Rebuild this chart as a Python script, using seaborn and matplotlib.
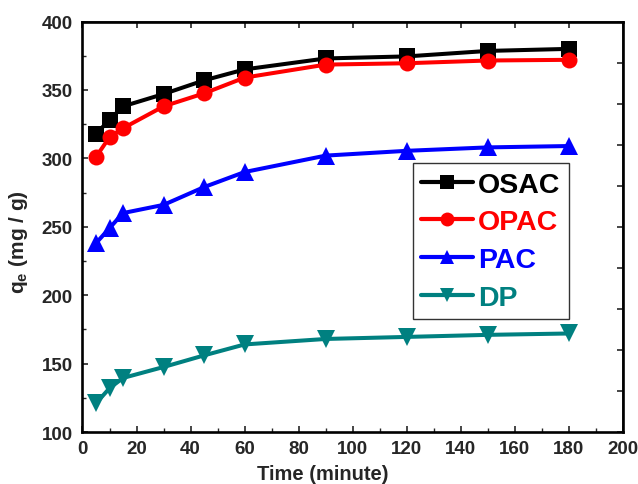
import numpy as np
import pandas as pd
import matplotlib
matplotlib.use("Agg")
import matplotlib.pyplot as plt
import seaborn as sns
from matplotlib.ticker import MultipleLocator

time_min = [5, 10, 15, 30, 45, 60, 90, 120, 150, 180]
osac = [318, 328, 338, 347, 357, 365, 373, 374.5, 378.5, 380]
opac = [301, 315.5, 322, 338, 347.5, 359, 368.5, 369.5, 371.5, 372]
pac = [238, 249, 260, 266, 279, 290, 302, 305.5, 308, 309]
dp = [121, 132, 139.5, 147.5, 156, 164, 168, 169.5, 171, 172]
series_names = ["OSAC", "OPAC", "PAC", "DP"]
colors = ["#000000", "#FF0000", "#0000FF", "#008080"]
markers = ["s", "o", "^", "v"]
x_ticks = list(range(0, 201, 20))
y_ticks = list(range(100, 401, 50))

sns.set_theme(style="ticks")
plt.rcParams["font.family"] = ["Liberation Sans", "DejaVu Sans"]
plt.rcParams["font.weight"] = "bold"
plt.rcParams["mathtext.fontset"] = "custom"
plt.rcParams["mathtext.bf"] = "Liberation Sans:bold"
plt.rcParams["mathtext.rm"] = "Liberation Sans:bold"

df = pd.DataFrame({
    "Time": time_min * 4,
    "qe": osac + opac + pac + dp,
    "Series": sum([[n] * len(time_min) for n in series_names], []),
})

fig = plt.figure(figsize=(6.38, 4.85), dpi=100)
ax = fig.add_axes([0.1293, 0.1072, 0.8472, 0.8464])

sns.lineplot(data=df, x="Time", y="qe", hue="Series", style="Series",
             palette=dict(zip(series_names, colors)),
             markers=dict(zip(series_names, markers)), dashes=False,
             linewidth=2.9, markersize=11, markeredgewidth=0,
             ax=ax, legend=True)

msize = {"s": 11, "o": 11.5, "^": 13, "v": 13}
for ln in ax.lines:
    m = ln.get_marker()
    if m in msize:
        ln.set_markersize(msize[m])

ax.set_xlim(0, 200)
ax.set_ylim(100, 400)
ax.set_xticks(x_ticks)
ax.set_yticks(y_ticks)
ax.xaxis.set_minor_locator(MultipleLocator(10))
ax.yaxis.set_minor_locator(MultipleLocator(25))
ax.tick_params(which="major", direction="in", length=4, width=1.2,
               labelsize=13.5)
ax.tick_params(axis="x", which="major", pad=6)
ax.tick_params(axis="y", which="major", pad=7)
ax.tick_params(which="minor", direction="in", length=3, width=1.0)
for lab in ax.get_xticklabels() + ax.get_yticklabels():
    lab.set_fontweight("bold")
for sp in ax.spines.values():
    sp.set_linewidth(1.9)
    sp.set_color("black")
    sp.set_visible(True)

# top and right ticks (no labels)
sec_top = ax.secondary_xaxis("top")
sec_top.set_xticks(x_ticks)
sec_top.tick_params(direction="in", length=4, width=1.2, labeltop=False)
sec_right = ax.secondary_yaxis("right")
sec_right.set_yticks(list(range(100, 401, 30)))
sec_right.tick_params(direction="in", length=4, width=1.2, labelright=False)

ax.set_xlabel("Time (minute)", fontsize=14.5, fontweight="bold")
ax.set_ylabel(r"q$_\mathbf{e}$ (mg / g)", fontsize=15, fontweight="bold")
ax.xaxis.set_label_coords(0.445, -0.078)
ax.yaxis.set_label_coords(-0.097, 0.465)

handles, labels = ax.get_legend_handles_labels()
leg = ax.legend(handles, labels, loc="upper left", bbox_to_anchor=(0.611, 0.655),
                fontsize=20.5, frameon=True, fancybox=False, edgecolor="black",
                handlelength=1.8, handletextpad=0.2, borderpad=0.3,
                labelspacing=0.41, borderaxespad=0)
leg.get_frame().set_linewidth(1.0)
for txt, c in zip(leg.get_texts(), colors):
    txt.set_color(c)
    txt.set_fontweight("bold")
for h in leg.legend_handles:
    h.set_linewidth(3)
    h.set_markersize(10)

fig.savefig("out.png", dpi=100)
